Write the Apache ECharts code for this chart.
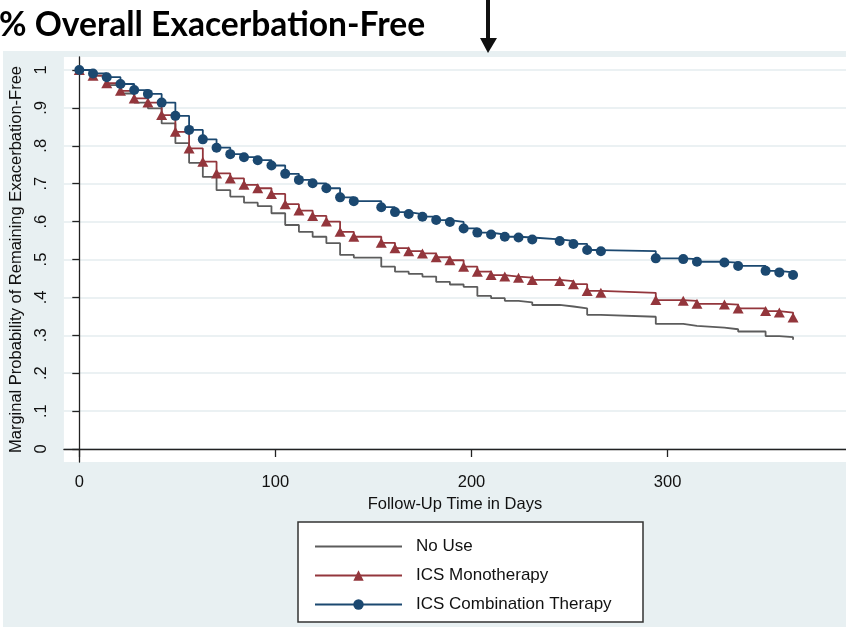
<!DOCTYPE html>
<html><head><meta charset="utf-8">
<script src="https://cdn.jsdelivr.net/npm/echarts@6/dist/echarts.min.js"></script>
<style>html,body{margin:0;padding:0;background:#fff}#c{width:846px;height:627px}</style>
</head><body><div id="c"></div>
<script>
const titleText = '% Overall Exacerbation-Free';
const seriesNames = ['No Use', 'ICS Monotherapy', 'ICS Combination Therapy'];
const xAxisTitle = 'Follow-Up Time in Days';
const yAxisTitle = 'Marginal Probability of Remaining Exacerbation-Free';

const days = [0,7,14,21,28,35,42,49,56,63,70,77,84,91,98,105,112,119,126,133,140,154,161,168,175,182,189,196,203,210,217,224,231,245,252,259,266,294,308,315,329,336,350,357,364];
const noUse = [1.0,0.985,0.960,0.938,0.914,0.899,0.859,0.807,0.755,0.718,0.683,0.666,0.650,0.641,0.622,0.591,0.573,0.560,0.543,0.512,0.505,0.481,0.468,0.462,0.455,0.441,0.434,0.428,0.404,0.398,0.391,0.387,0.380,0.376,0.371,0.354,0.349,0.330,0.325,0.320,0.316,0.310,0.298,0.295,0.288];
const icsMono = [1.0,0.985,0.965,0.945,0.925,0.914,0.881,0.837,0.793,0.758,0.727,0.714,0.697,0.688,0.673,0.646,0.629,0.615,0.600,0.573,0.560,0.544,0.530,0.522,0.516,0.506,0.498,0.481,0.468,0.459,0.455,0.452,0.446,0.443,0.435,0.417,0.412,0.393,0.391,0.383,0.381,0.371,0.364,0.360,0.347];
const icsCombo = [1.0,0.991,0.981,0.963,0.947,0.937,0.914,0.879,0.842,0.817,0.795,0.778,0.770,0.762,0.748,0.726,0.710,0.701,0.688,0.664,0.654,0.638,0.625,0.620,0.613,0.604,0.599,0.582,0.571,0.566,0.560,0.558,0.553,0.549,0.541,0.525,0.522,0.503,0.501,0.494,0.492,0.483,0.470,0.466,0.459];

const xTicks = [0, 100, 200, 300];
const yTicks = [0, 0.1, 0.2, 0.3, 0.4, 0.5, 0.6, 0.7, 0.8, 0.9, 1];
const yTickLabels = ['0', '.1', '.2', '.3', '.4', '.5', '.6', '.7', '.8', '.9', '1'];

const zip = (xs, ys) => xs.map((x, i) => [x, ys[i]]);
const FONT = '"Liberation Sans", Arial, Helvetica, sans-serif';
const C_GRAY = '#5c5c5c', C_RED = '#93363c', C_BLUE = '#1b4870';

const chart = echarts.init(document.getElementById('c'));
chart.setOption({
  animation: false,
  backgroundColor: '#e8f0f2',
  grid: { left: 63, right: 0, top: 57, bottom: 165, show: true, backgroundColor: '#ffffff', borderWidth: 0 },
  xAxis: {
    type: 'value', min: -7.85, max: 391,
    name: xAxisTitle, nameLocation: 'middle', nameGap: 32,
    nameTextStyle: { fontFamily: FONT, fontSize: 16.5, color: '#111' },
    axisLine: { show: true, lineStyle: { color: '#222', width: 1.3 } },
    axisTick: { show: true, length: 8, customValues: xTicks, lineStyle: { color: '#222', width: 1.3 } },
    axisLabel: { customValues: xTicks, margin: 12, fontFamily: FONT, fontSize: 16.5, color: '#111' },
    splitLine: { show: false }
  },
  yAxis: {
    type: 'value', min: -0.0343, max: 1.0343,
    name: yAxisTitle, nameLocation: 'middle', nameGap: 30,
    nameTextStyle: { fontFamily: FONT, fontSize: 16.5, color: '#111' },
    axisLine: { show: true, lineStyle: { color: '#222', width: 1.3 } },
    axisTick: { show: true, length: 7, customValues: yTicks, lineStyle: { color: '#222', width: 1.3 } },
    axisLabel: {
      customValues: yTicks, rotate: 90, margin: 14, fontFamily: FONT, fontSize: 16.5, color: '#111',
      formatter: v => { const i = yTicks.findIndex(t => Math.abs(t - v) < 1e-6); return i >= 0 ? yTickLabels[i] : ''; }
    },
    splitLine: { show: true, lineStyle: { color: '#e4edef', width: 1.6 } }
  },
  legend: {
    orient: 'vertical', left: 309, top: 533,
    itemWidth: 87, itemHeight: 13, itemGap: 12,
    data: [{ name: seriesNames[0], itemStyle: { opacity: 0 } }, seriesNames[1], seriesNames[2]],
    textStyle: { fontFamily: FONT, fontSize: 17, color: '#111', padding: [0, 0, 0, 9] }
  },
  graphic: [
    { type: 'rect', shape: { x: 0, y: 0, width: 846, height: 51 }, style: { fill: '#ffffff' }, z: 0 },
    { type: 'rect', shape: { x: 0, y: 0, width: 3, height: 627 }, style: { fill: '#ffffff' }, z: 0 },
    { type: 'text', x: -1, y: 25, style: { text: titleText, font: 'bold 33.6px Lato', fill: '#000', textVerticalAlign: 'middle' }, z: 1 },
    { type: 'rect', shape: { x: 486, y: 0, width: 4, height: 40 }, style: { fill: '#111' }, z: 1 },
    { type: 'polygon', shape: { points: [[480, 38], [497, 38], [488, 53]] }, style: { fill: '#111' }, z: 1 },
    { type: 'rect', shape: { x: 298, y: 522, width: 345, height: 100 }, style: { fill: '#ffffff', stroke: '#333', lineWidth: 1.5 }, z: 0 }
  ],
  series: [
    { name: seriesNames[0], type: 'line', step: 'end', data: zip(days, noUse), symbol: 'none',
      lineStyle: { color: C_GRAY, width: 1.8 }, itemStyle: { color: C_GRAY }, z: 2 },
    { name: seriesNames[1], type: 'line', step: 'end', data: zip(days, icsMono), symbol: 'triangle', symbolSize: [11, 10], showAllSymbol: true,
      lineStyle: { color: C_RED, width: 1.8 }, itemStyle: { color: C_RED }, z: 3 },
    { name: seriesNames[2], type: 'line', step: 'end', data: zip(days, icsCombo), symbol: 'circle', symbolSize: 10, showAllSymbol: true,
      lineStyle: { color: C_BLUE, width: 1.8 }, itemStyle: { color: C_BLUE }, z: 4 }
  ]
});
</script></body></html>
